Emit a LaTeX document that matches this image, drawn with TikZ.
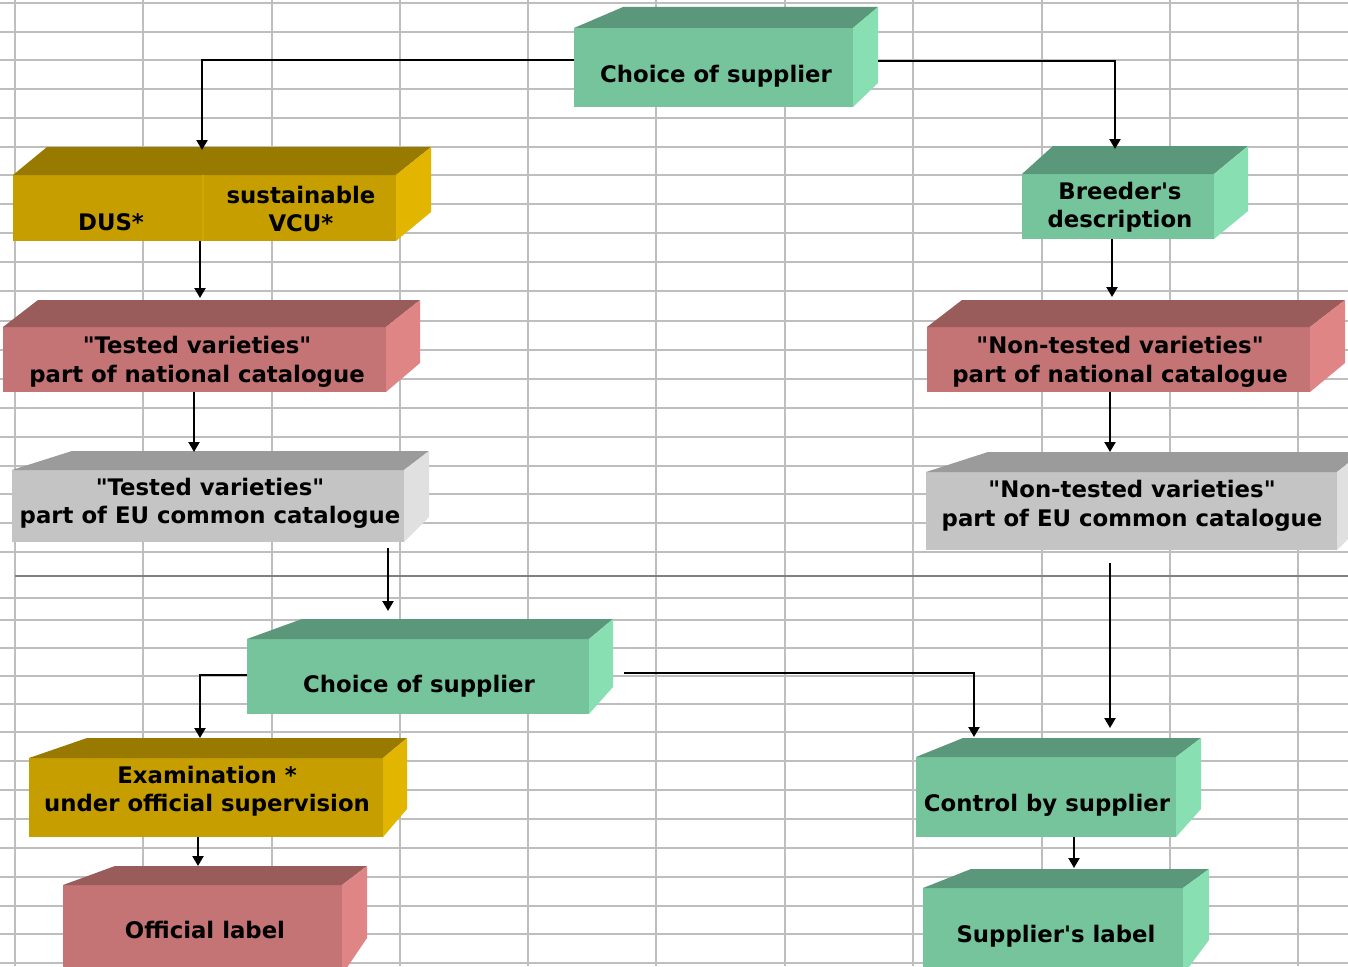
\documentclass[tikz,border=0pt]{standalone}
\usepackage{fontspec}
\setmainfont{DejaVu Sans}[Ligatures=TeXOff]
\usetikzlibrary{arrows.meta}
\definecolor{gF}{HTML}{76C49C}\definecolor{gT}{HTML}{5B977A}\definecolor{gR}{HTML}{88E0B2}
\definecolor{yF}{HTML}{C69E00}\definecolor{yT}{HTML}{997A00}\definecolor{yR}{HTML}{E2B600}
\definecolor{rF}{HTML}{C47474}\definecolor{rT}{HTML}{9A5B5B}\definecolor{rR}{HTML}{E08585}
\definecolor{kF}{HTML}{C4C4C4}\definecolor{kT}{HTML}{9B9B9B}\definecolor{kR}{HTML}{E0E0E0}
\definecolor{gridc}{HTML}{BEBEBE}
\definecolor{divc}{HTML}{D2A800}
% #1 name, #2 colour family, #3 x1, #4 y1, #5 x2, #6 y2, #7 back-left, #8 back-right top, #9 back-right bottom
\newcommand\slab[9]{%
  \node[fill=#2F, draw=none, inner sep=0pt, outer sep=0pt,
        minimum width={(#5-#3)*1pt}, minimum height={(#6-#4)*1pt}]
        (#1) at ({(#3+#5)/2},{(#4+#6)/2}) {};
  \fill[#2T] (#1.north west) -- (#7) -- (#8) -- (#1.north east) -- cycle;
  \fill[#2R] (#1.north east) -- (#8) -- (#9) -- (#1.south east) -- cycle;
}
\tikzset{
  gridline/.style={draw=gridc, line width=2.2pt},
  lbl/.style={font=\bfseries\fontsize{22.8}{28.5}\selectfont, align=center, inner sep=0pt, text=black},
  arr/.style={draw=black, line width=2.2pt, -{Triangle[length=10pt,width=11pt]}},
}
\begin{document}
\begin{tikzpicture}[x=1pt, y=-1pt]
\useasboundingbox (0,0) rectangle (1348,966);
\clip (0,0) rectangle (1348,966);
\fill[white] (0,0) rectangle (1348,966);
% spreadsheet grid
\foreach \gx in {15,143,272,400,528,656,785,913,1042,1170,1298}
  \draw[gridline] (\gx,0) -- (\gx,966);
\foreach \gy in {3,32,60,89,118,147,175,204,233,262,291,321,350,379,408,437,466,494,523,552,598,620,648,676,704,732,761,790,819,848,877,906,934,963}
  \draw[gridline] (0,\gy) -- (1348,\gy);
\draw[draw=black!50, line width=2.2pt] (15,576) -- (1348,576);

% boxes
\slab{c1}{g}{574}{28}{853}{107}{623,7}{878,7}{878,83}
\slab{dus}{y}{13}{175}{396}{241}{47,147}{431,147}{431,212}
\draw[divc, line width=1.2pt] (203,175) -- (203,241);
\slab{bd}{g}{1022}{174}{1214}{239}{1053,146}{1248,146}{1248,211}
\slab{tn}{r}{3}{327}{386}{392}{38,300}{420,300}{420,363}
\slab{ntn}{r}{927}{327}{1310}{392}{962,300}{1345,300}{1345,363}
\slab{te}{k}{12}{470}{404}{542}{72,451}{429,451}{429,517}
\slab{nte}{k}{926}{472}{1337}{550}{988,452}{1362,452}{1362,525}
\slab{c2}{g}{247}{639}{589}{714}{302,619}{613,619}{613,687}
\slab{ctrl}{g}{916}{757}{1176}{837}{963,738}{1201,738}{1201,809}
\slab{sl}{g}{923}{888}{1183}{975}{971,869}{1209,869}{1209,940}
\slab{ex}{y}{29}{758}{383}{837}{87,738}{407,738}{407,809}
\slab{ol}{r}{63}{885}{342}{975}{115,866}{367,866}{367,938}

% labels
\node[lbl, anchor=base] (c1t) at (716,82) {Choice of supplier};
\node[lbl, anchor=base] (dust) at (111,230) {DUS*};
\node[lbl] (vcut) at (301,209.2) {sustainable\\VCU*};
\node[lbl] (bdt) at (1120,207.2) {Breeder's\\description};
\node[lbl] (tnt) at (197,361.7) {"Tested varieties"\\part of national catalogue};
\node[lbl] (ntnt) at (1120,361.7) {"Non-tested varieties"\\part of national catalogue};
\node[lbl] (tet) at (210,503.2) {"Tested varieties"\\part of EU common catalogue};
\node[lbl] (ntet) at (1132,505.7) {"Non-tested varieties"\\part of EU common catalogue};
\node[lbl, anchor=base] (c2t) at (419,692) {Choice of supplier};
\node[lbl] (ext) at (207,791.2) {Examination *\\under official supervision};
\node[lbl, anchor=base] (olt) at (205,938) {Official label};
\node[lbl, anchor=base] (ctrlt) at (1047,811) {Control by supplier};
\node[lbl, anchor=base] (slt) at (1056,942) {Supplier's label};

% connectors
\draw[arr] ([yshift=7.5pt]c1.west) -| ([xshift=-2.5pt,yshift=25pt]dus.north);
\draw[arr] ([xshift=25pt,yshift=6.5pt]c1.east) -| ([xshift=-3pt,yshift=25pt]bd.north);
\draw[arr] ([xshift=-4.5pt]dus.south) -- ([xshift=5.5pt,yshift=29pt]tn.north);
\draw[arr] ([xshift=-0.5pt]tn.south) -- ([xshift=-14pt,yshift=18pt]te.north);
\draw[arr] ([xshift=-6pt]bd.south) -- ([xshift=-6.5pt,yshift=30pt]ntn.north);
\draw[arr] ([xshift=-8.5pt]ntn.south) -- ([xshift=-21.5pt,yshift=20pt]nte.north);
\draw[arr] ([xshift=180pt,yshift=-6pt]te.south) -- ([xshift=-30pt,yshift=28pt]c2.north);
\draw[arr] ([xshift=-21.5pt,yshift=-13pt]nte.south) -- ([xshift=64pt,yshift=29pt]ctrl.north);
\draw[arr] ([yshift=1.5pt]c2.west) -| ([xshift=-6pt,yshift=20pt]ex.north);
\draw[arr] ([xshift=35pt,yshift=3.5pt]c2.east) -| ([xshift=-72pt,yshift=20pt]ctrl.north);
\draw[arr] ([xshift=-8pt]ex.south) -- ([xshift=-4.5pt,yshift=19pt]ol.north);
\draw[arr] ([xshift=28pt]ctrl.south) -- ([xshift=21pt,yshift=20pt]sl.north);
\end{tikzpicture}
\end{document}
